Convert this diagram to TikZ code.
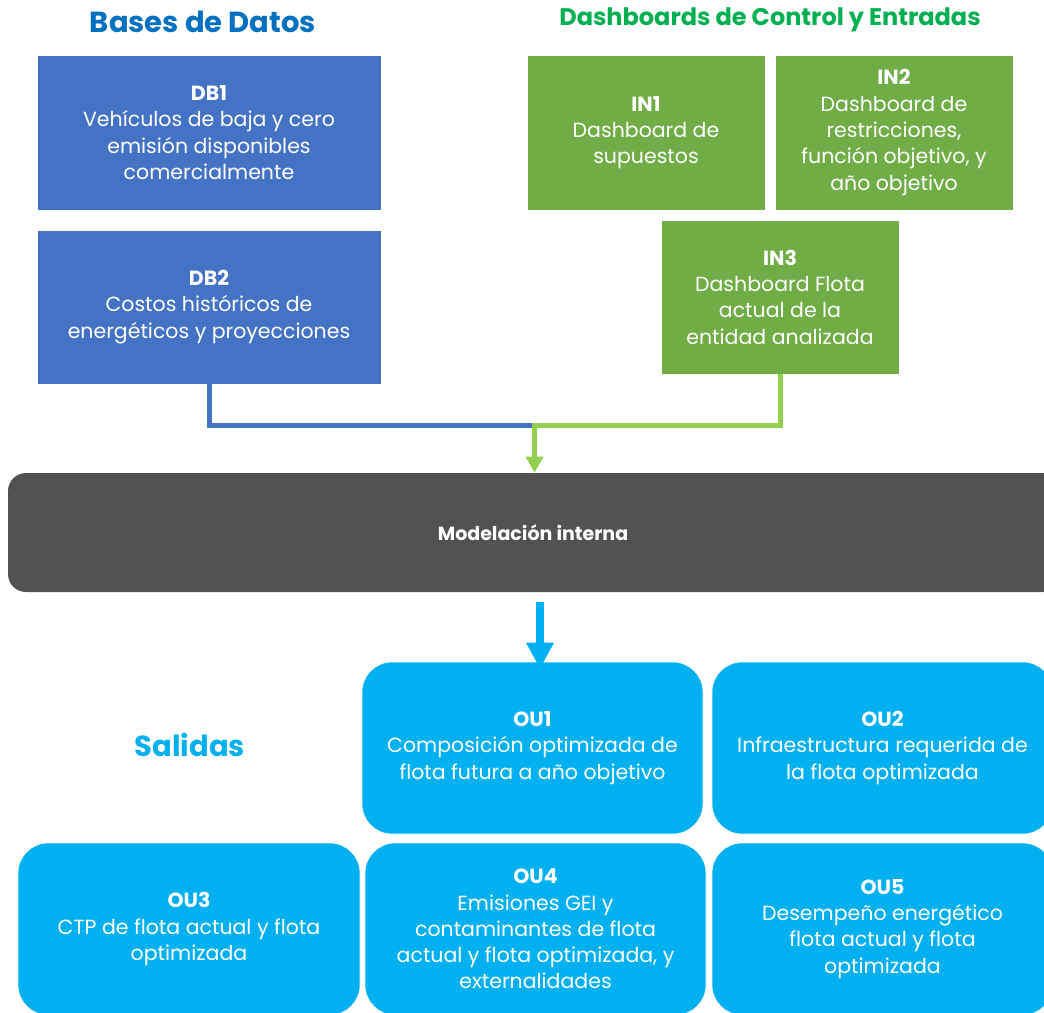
\documentclass[tikz,border=0pt]{standalone}
\usepackage{fontspec}
\setmainfont{Poppins}
\usetikzlibrary{arrows.meta}
\definecolor{dbblue}{HTML}{4472C4}
\definecolor{ingreen}{HTML}{70AD47}
\definecolor{lightgreen}{HTML}{92D050}
\definecolor{darkgrey}{HTML}{525252}
\definecolor{cyanout}{HTML}{00B0F0}
\definecolor{titleblue}{HTML}{0070C0}
\definecolor{titlegreen}{HTML}{00B050}
\begin{document}
\begin{tikzpicture}[x=1pt,y=-1pt,
  box/.style={draw=white, line width=0.6pt, text=white, align=center, inner sep=0pt,
    font=\fontsize{20.5}{26.3}\selectfont},
  dbbox/.style={box, fill=dbblue, minimum width=344pt, minimum height=155pt},
  inbox/.style={box, fill=ingreen, minimum width=238pt, minimum height=155pt},
  oubox/.style={box, fill=cyanout, rounded corners=30pt, minimum width=341pt, minimum height=172pt},
  title/.style={font=\fontsize{29}{32}\selectfont\bfseries, inner sep=0pt},
  conn/.style={line width=5pt},
]
\useasboundingbox (0,0) rectangle (1044,1012);
\clip (0,0) rectangle (1044,1012);

\node[title, text=titleblue] (t1) at (203,22) {Bases de Datos};
\node[title, text=titlegreen, font=\fontsize{24}{28}\selectfont\bfseries] (t2) at (770,20) {Dashboards de Control y Entradas};
\node[title, text=cyanout] (t3) at (190,745) {Salidas};

\node[dbbox] (DB1) at (209,132.5) {\textbf{DB1}\\Vehículos de baja y cero\\emisión disponibles\\comercialmente};
\node[dbbox, minimum height=154pt] (DB2) at (209,307) {\textbf{DB2}\\Costos históricos de\\energéticos y proyecciones};
\node[inbox] (IN1) at (646,132.5) {\textbf{IN1}\\Dashboard de\\supuestos};
\node[inbox] (IN2) at (894,132.5) {\textbf{IN2}\\Dashboard de\\restricciones,\\función objetivo, y\\año objetivo};
\node[inbox, minimum height=154pt] (IN3) at (780,297) {\textbf{IN3}\\Dashboard Flota\\actual de la\\entidad analizada};

\node[box, fill=darkgrey, draw=none, rounded corners=18pt, minimum width=1052pt, minimum height=119pt] (MOD) at (534,532.5) {};
\node[text=white, font=\fontsize{19}{22}\selectfont\bfseries, inner sep=0pt] (MODT) at (533,533) {Modelación interna};

\coordinate (J) at (534.5,425);
\draw[conn, dbblue] (DB2.south) |- (J);
\draw[conn, lightgreen, -{Triangle[width=17pt,length=16pt]}] (IN3.south) |- (J) -- (J |- MOD.north);

\node[oubox] (OU1) at (532.5,748) {\textbf{OU1}\\Composición optimizada de\\flota futura a año objetivo};
\node[oubox] (OU2) at (882.5,748) {\textbf{OU2}\\Infraestructura requerida de\\la flota optimizada};
\node[oubox, minimum width=342pt] (OU3) at (189,929) {\textbf{OU3}\\CTP de flota actual y flota\\optimizada};
\node[oubox] (OU4) at (535.5,929) {\textbf{OU4}\\Emisiones GEI y\\contaminantes de flota\\actual y flota optimizada, y\\externalidades};
\node[oubox] (OU5) at (882.5,929) {\textbf{OU5}\\Desempeño energético\\flota actual y flota\\optimizada};

\coordinate (A1) at (540,602);
\draw[line width=8pt, cyanout, -{Triangle[width=26pt,length=26pt]}] (A1) -- ([yshift=-7pt]A1 |- OU1.north);
\end{tikzpicture}
\end{document}
